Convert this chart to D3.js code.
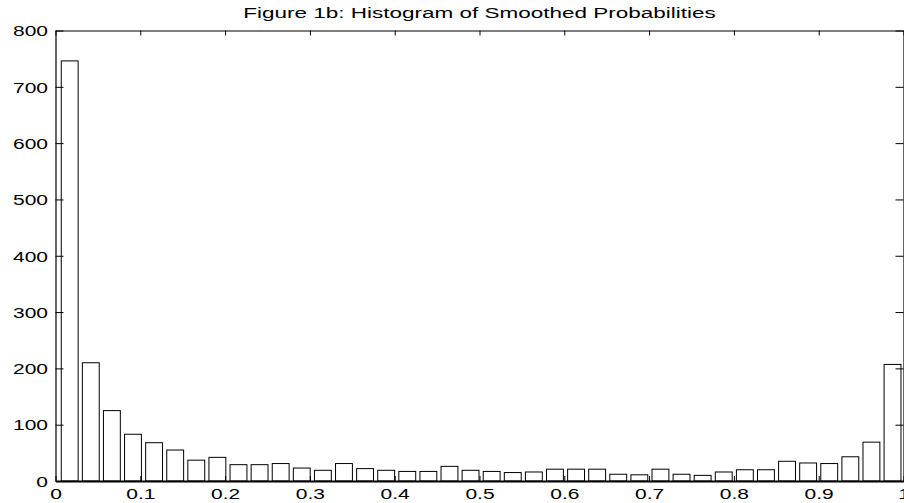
<!DOCTYPE html>
<html>
<head>
<meta charset="utf-8">
<script src="https://cdn.jsdelivr.net/npm/d3@7"></script>
<style>
  html, body { margin: 0; padding: 0; background: #fff; }
  svg { display: block; }
  text { font-family: "Liberation Sans", Arial, Helvetica, sans-serif; fill: #000; }
</style>
</head>
<body>
<svg id="chart" width="904" height="503"></svg>
<script>
// ---- data ----
const title = "Figure 1b: Histogram of Smoothed Probabilities";
const counts = [746, 210, 125, 83, 68, 55, 37, 42, 29, 29,
                31, 23, 19, 31, 22, 19, 17, 17, 26, 19,
                17, 15, 16, 21, 21, 21, 12, 11, 21, 12,
                10, 16, 20, 20, 35, 32, 31, 43, 69, 207];
const dataMin = 0.0043, dataMax = 0.9995;   // range of the smoothed probabilities (hist bins)
const xTicks = [0, 0.1, 0.2, 0.3, 0.4, 0.5, 0.6, 0.7, 0.8, 0.9, 1];
const xTickLabels = ["0", "0.1", "0.2", "0.3", "0.4", "0.5", "0.6", "0.7", "0.8", "0.9", "1"];
const yTicks = [0, 100, 200, 300, 400, 500, 600, 700, 800];

(function () {
// ---- layout ----
const mLeft = 55.5, mRight = 903.5, mTop = 30.5, mBottom = 481;
const stretch = 1.4;   // horizontal stretch of the lettering in the reference
const svg = d3.select("#chart");

const x = d3.scaleLinear().domain([0, 1]).range([mLeft, mRight]);
const y = d3.scaleLinear().domain([0, 800]).range([mBottom, mTop]);

const nBins = counts.length;
const binW = (dataMax - dataMin) / nBins;
const bins = counts.map((c, i) => ({ center: dataMin + (i + 0.5) * binW, count: c }));
const barW = 0.8 * binW;

// bars
svg.append("g").selectAll("rect").data(bins).join("rect")
  .attr("x", d => x(d.center - barW / 2))
  .attr("y", d => y(d.count))
  .attr("width", d => x(d.center + barW / 2) - x(d.center - barW / 2))
  .attr("height", d => y(0) - y(d.count))
  .attr("fill", "#fff")
  .attr("stroke", "#000")
  .attr("stroke-width", 1);

// axes (ticks inward, full box)
const fontSize = 15;
const bottomAxis = svg.append("g").attr("transform", `translate(0,${mBottom})`)
  .call(d3.axisBottom(x).tickValues(xTicks).tickFormat((d, i) => xTickLabels[i]).tickSizeInner(-5).tickSizeOuter(0));
const topAxis = svg.append("g").attr("transform", `translate(0,${mTop})`)
  .call(d3.axisTop(x).tickValues(xTicks).tickFormat("").tickSizeInner(-5).tickSizeOuter(0));
const leftAxis = svg.append("g").attr("transform", `translate(${mLeft},0)`)
  .call(d3.axisLeft(y).tickValues(yTicks).tickSizeInner(-8).tickSizeOuter(0));
const rightAxis = svg.append("g").attr("transform", `translate(${mRight},0)`)
  .call(d3.axisRight(y).tickValues(yTicks).tickFormat("").tickSizeInner(-8).tickSizeOuter(0));

[bottomAxis, topAxis, leftAxis, rightAxis].forEach(g => {
  g.select(".domain").attr("stroke", "#000").attr("stroke-width", 1.2);
  g.selectAll(".tick line").attr("stroke", "#000").attr("stroke-width", 1);
  g.selectAll("text").attr("font-size", fontSize).attr("font-family", null).attr("fill", "#000");
});
bottomAxis.select(".domain").attr("stroke-width", 2);

bottomAxis.selectAll(".tick text")
  .attr("x", 0).attr("y", 0).attr("dy", null)
  .attr("text-anchor", "middle")
  .attr("transform", `translate(0,17.5) scale(${stretch},1)`);

leftAxis.selectAll(".tick text")
  .attr("x", 0).attr("y", 0).attr("dy", null)
  .attr("text-anchor", "end")
  .attr("transform", `translate(-7.5,5.3) scale(${stretch},1)`);

// title
svg.append("text")
  .attr("text-anchor", "middle")
  .attr("font-size", fontSize)
  .attr("transform", `translate(${(mLeft + mRight) / 2},18) scale(1.5,1)`)
  .text(title);
})();
</script>
</body>
</html>
